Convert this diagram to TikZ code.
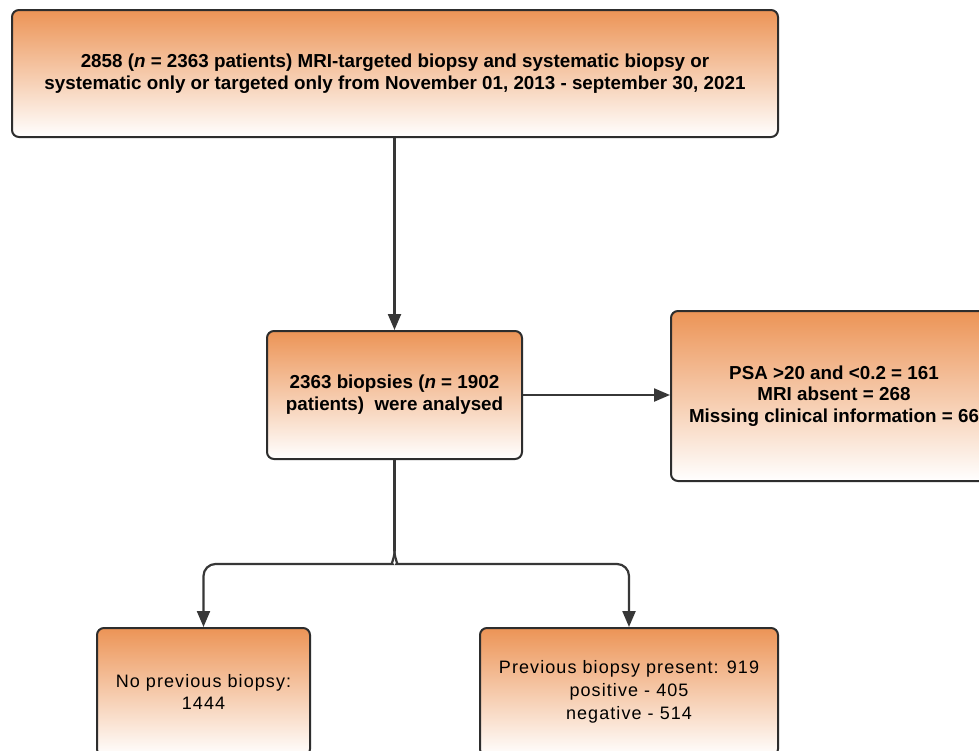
\documentclass[tikz,border=0pt]{standalone}
\usepackage{fontspec}
\setmainfont{Liberation Sans}
\newfontfamily\spacedfont[LetterSpace=6]{Liberation Sans}
\usetikzlibrary{arrows.meta,calc}
\definecolor{orng}{RGB}{236,148,86}
\definecolor{edge}{RGB}{45,45,45}
\definecolor{lineclr}{RGB}{55,55,55}
\tikzset{
  box/.style={draw=edge, line width=2pt, rounded corners=7pt, top color=orng, bottom color=white, shading=axis, align=center, inner sep=0pt, text=black},
  boldtxt/.style={font=\fontsize{18.8}{21.8}\selectfont\bfseries},
  plaintxt/.style={font=\fontsize{18}{22.8}\selectfont\spacedfont},
  conn/.style={draw=lineclr, line width=2.2pt},
  arr/.style={conn, -{Triangle[length=16pt,width=13pt]}}
}
\begin{document}
\begin{tikzpicture}[x=1pt,y=-1pt]
\clip (0,0) rectangle (979,750);
\fill[white] (0,0) rectangle (979,750);
\node[box, boldtxt, minimum width=766pt, minimum height=127pt] (top) at (395,73.5)
  {2858 (\textit{n} = 2363 patients) MRI-targeted biopsy and systematic biopsy or\\systematic only or targeted only from November 01, 2013 - september 30, 2021};
\node[box, boldtxt, minimum width=255pt, minimum height=128pt] (mid) at (394.5,395)
  {2363 biopsies (\textit{n} = 1902\\patients)\ \ were analysed};
\node[box, boldtxt, minimum width=326pt, minimum height=170pt] (rgt) at (834,396)
  {PSA >20 and <0.2 = 161\\MRI absent = 268\\Missing clinical information = 66};
\node[box, plaintxt, minimum width=213pt, minimum height=128pt] (lb) at (203.5,692)
  {No previous biopsy:\\1444};
\node[box, plaintxt, minimum width=298pt, minimum height=128pt] (rb) at (629,692)
  {Previous biopsy present: 919\\positive - 405\\negative - 514};
\draw[arr] (top.south -| mid.north) -- (mid.north);
\draw[arr] (mid.east) -- (mid.east -| rgt.west);
\coordinate (jn) at ($(mid.south)+(0,91)$);
\coordinate (hy) at ($(jn)+(0,13)$);
\draw[conn] (mid.south) -- (jn);
\draw[arr, rounded corners=12pt] (jn) .. controls ($(jn)+(0,8)$) and ($(jn)+(-4,13)$) .. ($(jn)+(-14,13)$) -- (lb.north |- hy) -- (lb.north);
\draw[arr, rounded corners=12pt] (jn) .. controls ($(jn)+(0,8)$) and ($(jn)+(4,13)$) .. ($(jn)+(14,13)$) -- (rb.north |- hy) -- (rb.north);
\end{tikzpicture}
\end{document}
